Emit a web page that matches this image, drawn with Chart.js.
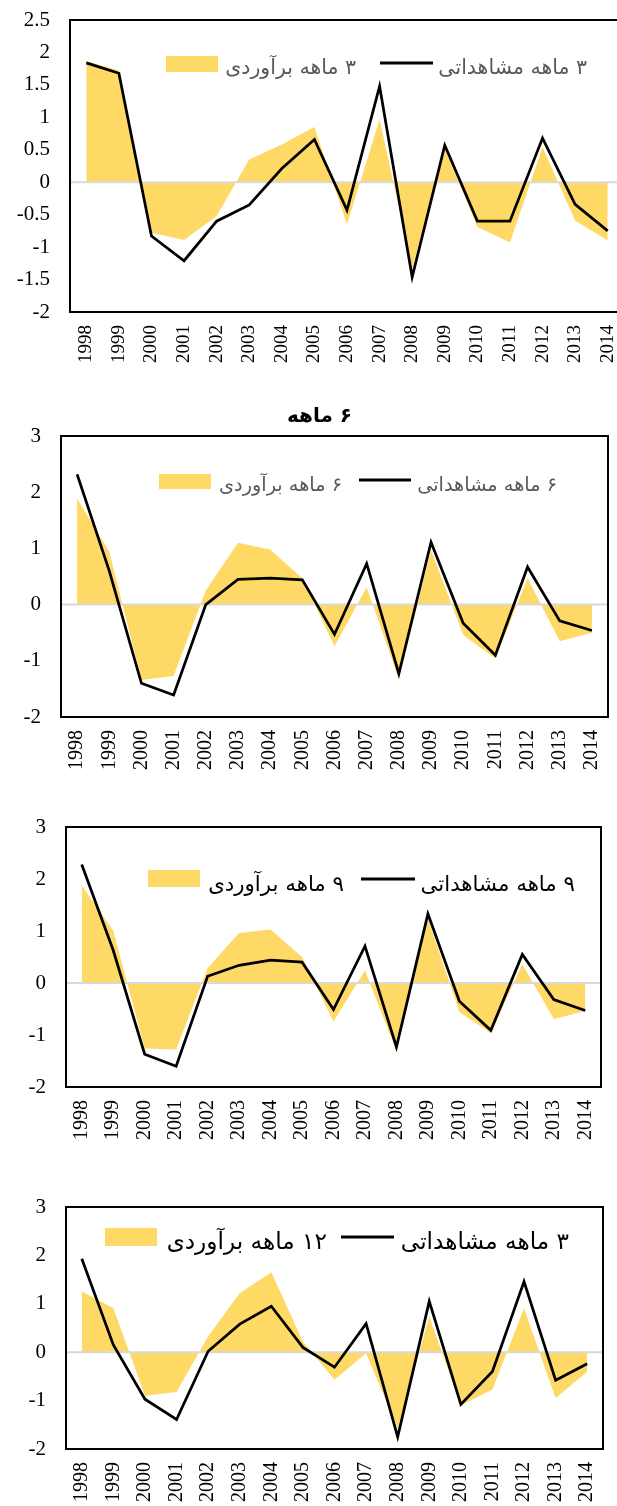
<!DOCTYPE html>
<html>
<head>
<meta charset="utf-8">
<script src="https://cdn.jsdelivr.net/npm/chart.js@4.4.1/dist/chart.umd.min.js"></script>
<style>
  html, body { margin: 0; padding: 0; background: #fff; overflow: hidden; width: 617px; height: 1506px; position: relative; }
  canvas { position: absolute; left: 0; }
  .txt { position: absolute; font-family: 'DejaVu Sans', sans-serif; white-space: nowrap; direction: rtl; line-height: 1; transform: translateY(-50%); }
  .sw { position: absolute; background: #FFD966; }
  .ln { position: absolute; height: 3px; background: #000; transform: translateY(-50%); }
</style>
</head>
<body>
<script>
// categories
const years = ['1998', '1999', '2000', '2001', '2002', '2003', '2004', '2005', '2006',
  '2007', '2008', '2009', '2010', '2011', '2012', '2013', '2014'];

// observed (line) and estimated (area) series, one pair per panel
const obs3 = [1.84, 1.68, -0.83, -1.21, -0.60, -0.35, 0.21, 0.66, -0.43, 1.48, -1.46, 0.57, -0.60, -0.60, 0.68, -0.34, -0.75];
const est3 = [1.87, 1.72, -0.78, -0.89, -0.52, 0.35, 0.58, 0.85, -0.65, 0.97, -1.33, 0.52, -0.69, -0.93, 0.54, -0.59, -0.90];

const obs6 = [2.32, 0.60, -1.40, -1.61, 0.00, 0.45, 0.47, 0.44, -0.53, 0.73, -1.23, 1.11, -0.33, -0.90, 0.67, -0.29, -0.46];
const est6 = [1.89, 0.94, -1.34, -1.27, 0.25, 1.10, 0.98, 0.47, -0.74, 0.31, -1.33, 0.97, -0.54, -0.96, 0.47, -0.65, -0.50];

const obs9 = [2.28, 0.63, -1.37, -1.60, 0.13, 0.34, 0.44, 0.40, -0.51, 0.71, -1.23, 1.33, -0.35, -0.91, 0.55, -0.32, -0.53];
const est9 = [1.88, 1.01, -1.26, -1.28, 0.29, 0.96, 1.03, 0.50, -0.74, 0.24, -1.31, 1.24, -0.56, -0.96, 0.36, -0.69, -0.54];

const obs12 = [1.93, 0.15, -0.97, -1.39, 0.02, 0.58, 0.95, 0.10, -0.31, 0.59, -1.75, 1.05, -1.08, -0.40, 1.46, -0.58, -0.24];
const est12 = [1.26, 0.91, -0.90, -0.82, 0.33, 1.22, 1.65, 0.22, -0.57, -0.02, -1.57, 0.74, -1.10, -0.77, 0.91, -0.95, -0.40];

// tick labels
const yTicksHalf = [-2, -1.5, -1, -0.5, 0, 0.5, 1, 1.5, 2, 2.5];
const yTicksOne = [-2, -1, 0, 1, 2, 3];

// legend / title texts
const estNames = ['۳ ماهه برآوردی', '۶ ماهه برآوردی', '۹ ماهه برآوردی', '۱۲ ماهه برآوردی'];
const obsNames = ['۳ ماهه مشاهداتی', '۶ ماهه مشاهداتی', '۹ ماهه مشاهداتی', '۳ ماهه مشاهداتی'];
const titleText = '۶ ماهه';

const AREA = '#FFD966';

// layout of each panel (page pixels)
const panels = [
  { obs: obs3, est: est3, ticks: yTicksHalf, top: 0, h: 380, w: 630, box: { l: 70, t: 20, r: 624, b: 312 },
    yFont: 21, xFont: 19, legend: { sw: [166, 56, 52, 16], t1: [356, 67], ln: [380, 433, 63], t2: [587, 67], size: 20.5, color: '#595959' } },
  { obs: obs6, est: est6, ticks: yTicksOne, top: 380, h: 400, w: 617, box: { l: 61, t: 436, r: 608, b: 717 },
    yFont: 21, xFont: 20, legend: { sw: [159, 474, 52, 15], t1: [342, 485], ln: [359, 411, 480], t2: [557, 485], size: 19.3, color: '#595959' } },
  { obs: obs9, est: est9, ticks: yTicksOne, top: 790, h: 360, w: 617, box: { l: 66, t: 827, r: 601, b: 1087 },
    yFont: 21, xFont: 20, legend: { sw: [148, 870, 52, 17], t1: [344, 884], ln: [361, 415, 879], t2: [575, 884], size: 21.3, color: '#000' } },
  { obs: obs12, est: est12, ticks: yTicksOne, top: 1150, h: 356, w: 617, box: { l: 66, t: 1207, r: 603, b: 1449 },
    yFont: 21, xFont: 20, legend: { sw: [105, 1228, 52, 18], t1: [327, 1241], ln: [341, 394, 1237], t2: [569, 1241], size: 23.2, color: '#000' } }
];

// zero line over the area, frame around the plot
const framePlugin = {
  id: 'frame',
  afterDatasetDraw(chart, args) {
    if (args.index !== 1) return;
    const { ctx, chartArea } = chart;
    const y0 = chart.scales.y.getPixelForValue(0);
    ctx.save();
    ctx.strokeStyle = '#d9d9d9';
    ctx.lineWidth = 2;
    ctx.beginPath();
    ctx.moveTo(chartArea.left, y0);
    ctx.lineTo(chartArea.right, y0);
    ctx.stroke();
    ctx.restore();
  },
  afterDraw(chart) {
    const { ctx, chartArea } = chart;
    ctx.save();
    ctx.strokeStyle = '#000';
    ctx.lineWidth = 2;
    ctx.strokeRect(chartArea.left, chartArea.top, chartArea.right - chartArea.left, chartArea.bottom - chartArea.top);
    ctx.restore();
  }
};

function addText(text, right, cy, size, color, bold) {
  const el = document.createElement('div');
  el.className = 'txt';
  el.textContent = text;
  el.style.right = (617 - right) + 'px';
  el.style.top = cy + 'px';
  el.style.fontSize = size + 'px';
  el.style.color = color;
  if (bold) el.style.fontWeight = 'bold';
  document.body.appendChild(el);
  return el;
}

panels.forEach((p, i) => {
  const canvas = document.createElement('canvas');
  canvas.width = p.w;
  canvas.height = p.h;
  canvas.style.top = p.top + 'px';
  document.body.appendChild(canvas);

  new Chart(canvas, {
    type: 'line',
    data: {
      labels: years,
      datasets: [
        {
          label: obsNames[i],
          data: p.obs,
          borderColor: '#000',
          borderWidth: 2.75,
          pointRadius: 0,
          tension: 0,
          fill: false,
        },
        {
          label: estNames[i],
          data: p.est,
          borderColor: 'rgba(0,0,0,0)',
          borderWidth: 1,
          backgroundColor: AREA,
          pointRadius: 0,
          tension: 0,
          fill: 'origin',
        },
      ],
    },
    options: {
      responsive: false,
      animation: false,
      devicePixelRatio: 1,
      layout: { padding: { top: p.box.t - p.top, right: p.w - p.box.r, left: 0, bottom: 0 } },
      plugins: { legend: { display: false }, tooltip: { enabled: false } },
      scales: {
        x: {
          offset: true,
          grid: { display: false, drawTicks: false },
          border: { display: false },
          ticks: {
            autoSkip: false, minRotation: 90, maxRotation: 90, padding: 13,
            color: '#000', font: { family: "'Liberation Serif', serif", size: p.xFont },
          },
          afterFit: (s) => {
            s.height = p.top + p.h - p.box.b;
            s.paddingLeft = 0;
            s.paddingRight = 0;
          },
        },
        y: {
          min: p.ticks[0],
          max: p.ticks[p.ticks.length - 1],
          grid: { display: false, drawTicks: false },
          border: { display: false },
          afterBuildTicks: (s) => { s.ticks = p.ticks.map(v => ({ value: v })); },
          ticks: {
            padding: 20, color: '#000',
            font: { family: "'Liberation Serif', serif", size: p.yFont },
            callback: (v) => String(v),
          },
          afterFit: (s) => {
            s.width = p.box.l;
            s.paddingTop = 0;
            s.paddingBottom = 0;
          },
        },
      },
    },
    plugins: [framePlugin],
  });

  const lg = p.legend;
  const sw = document.createElement('div');
  sw.className = 'sw';
  sw.style.left = lg.sw[0] + 'px';
  sw.style.top = lg.sw[1] + 'px';
  sw.style.width = lg.sw[2] + 'px';
  sw.style.height = lg.sw[3] + 'px';
  document.body.appendChild(sw);

  const ln = document.createElement('div');
  ln.className = 'ln';
  ln.style.left = lg.ln[0] + 'px';
  ln.style.width = (lg.ln[1] - lg.ln[0]) + 'px';
  ln.style.top = lg.ln[2] + 'px';
  document.body.appendChild(ln);

  addText(estNames[i], lg.t1[0], lg.t1[1], lg.size, lg.color);
  addText(obsNames[i], lg.t2[0], lg.t2[1], lg.size, lg.color);
});

addText(titleText, 352, 415, 20, '#000', true);
</script>
</body>
</html>
